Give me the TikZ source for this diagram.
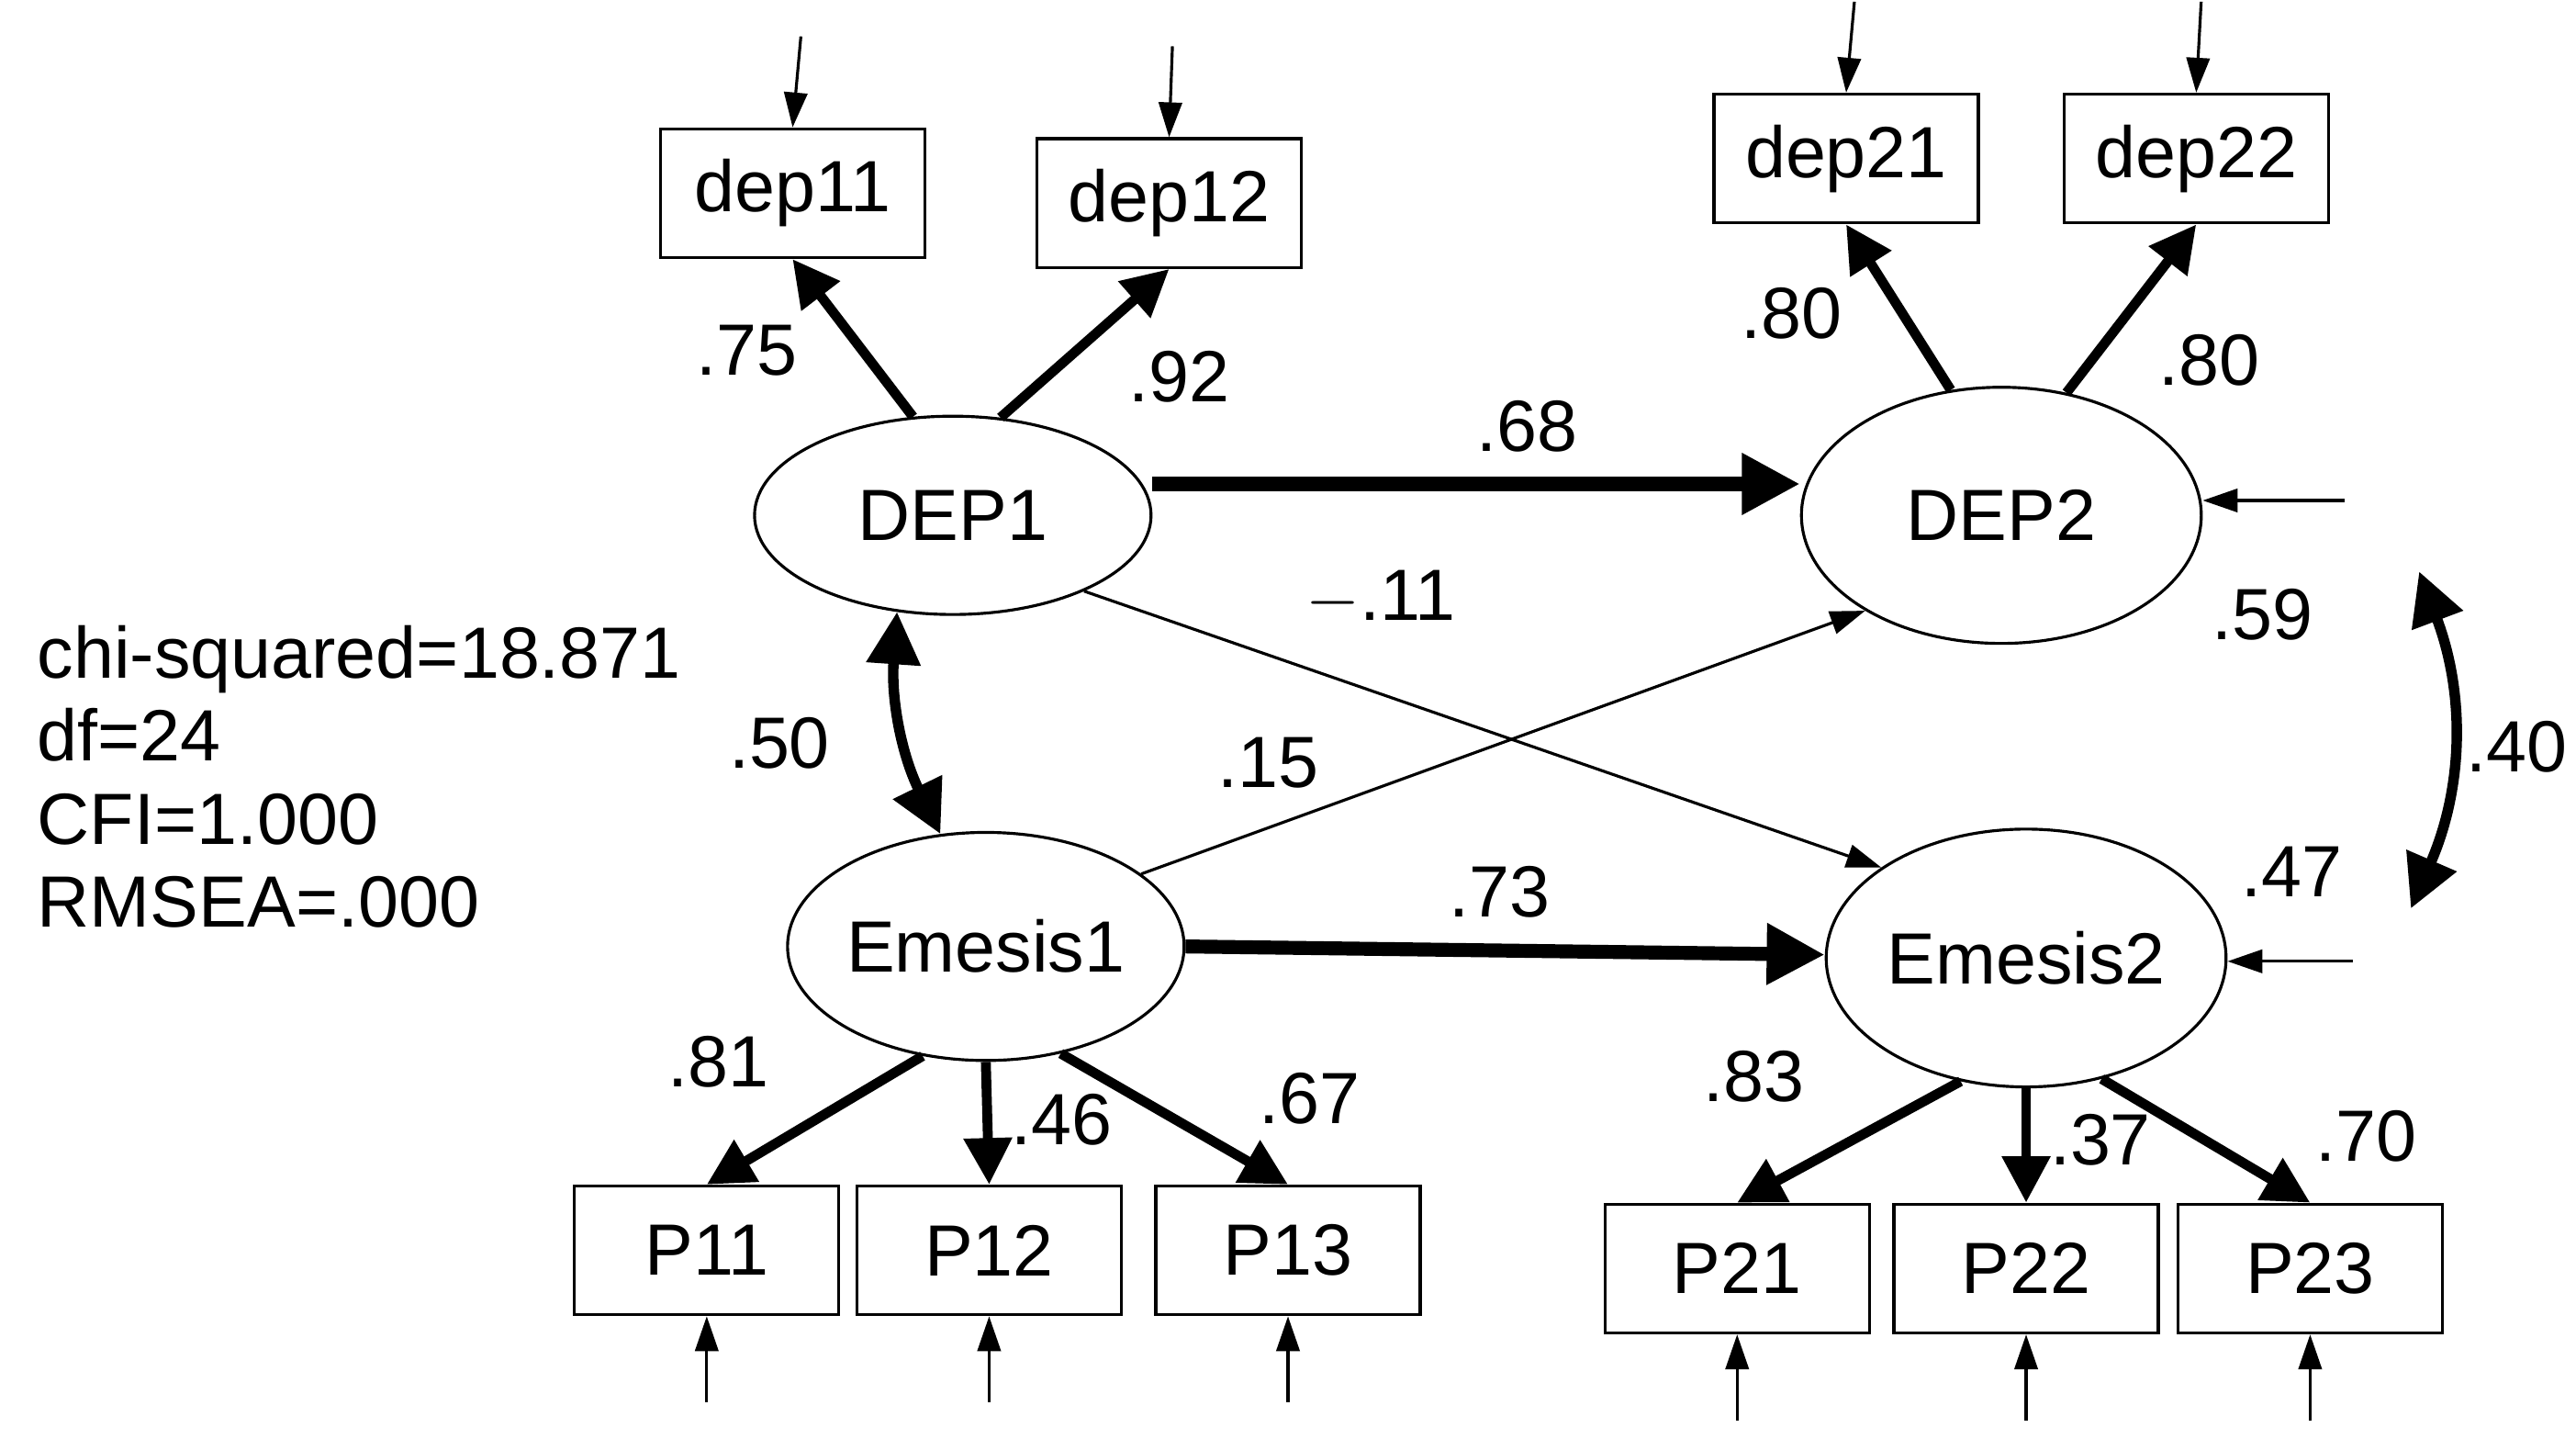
\documentclass[tikz,border=0pt]{standalone}
\usepackage{fontspec}
\setmainfont{Liberation Sans}
\usetikzlibrary{arrows.meta,shapes.geometric}
\begin{document}
\begin{tikzpicture}[x=0.01cm,y=-0.01cm,
  font=\fontsize{12.5}{15}\selectfont,
  box/.style={draw,line width=0.5pt,minimum width=1.6cm,minimum height=0.78cm,inner sep=0pt},
  lat/.style={draw,ellipse,line width=0.5pt,minimum width=2.42cm,minimum height=1.45cm,inner sep=0pt},
  thk/.style={line width=1.7pt,-{Triangle[length=8pt,width=8pt]}},
  thn/.style={line width=0.5pt,-{Triangle[length=6pt,width=4pt]}},
  err/.style={line width=0.5pt,-{Triangle[length=6pt,width=4pt]}},
  lbl/.style={inner sep=0pt}]
\useasboundingbox (0,0) rectangle (1560,871);
\node[box] (dep11) at (480,117) {dep11};
\node[box] (dep12) at (708,123) {dep12};
\node[box] (dep21) at (1118,96) {dep21};
\node[box] (dep22) at (1330,96) {dep22};
\node[lat,minimum width=2.4cm,minimum height=1.2cm] (DEP1) at (577,312) {DEP1};
\node[lat,minimum height=1.55cm] (DEP2) at (1212,312) {DEP2};
\node[lat,minimum width=2.4cm,minimum height=1.38cm] (E1) at (597,573) {Emesis1};
\node[lat,minimum height=1.56cm] (E2) at (1227,580) {Emesis2};
\node[box] (P11) at (428,757) {P11};
\node[box] (P12) at (599,757) {P12};
\node[box] (P13) at (780,757) {P13};
\node[box] (P21) at (1052,768) {P21};
\node[box] (P22) at (1227,768) {P22};
\node[box] (P23) at (1399,768) {P23};
% error terms
\foreach \n/\dx in {dep11/5,dep12/2,dep21/5,dep22/3}{
  \coordinate (e\n) at ([xshift=\dx*0.01cm,yshift=0.55cm]\n.north);
  \draw[err] (e\n) -- (\n.north);}
\foreach \n in {P11,P12,P13,P21,P22,P23}{
  \coordinate (e\n) at ([yshift=-0.52cm]\n.south);
  \draw[err] (e\n) -- (\n.south);}
\coordinate (rD2) at (1420,303);
\coordinate (rE2) at (1425,582);
\draw[err] (rD2) -- (DEP2.east |- rD2);
\draw[err] (rE2) -- (E2.east |- rE2);
% loadings
\draw[thk] (DEP1.112) -- (dep11.south);
\draw[thk] (DEP1.64) -- (dep12.south);
\draw[thk] (DEP2.112) -- (dep21.south);
\draw[thk] (DEP2.62) -- (dep22.south);
\draw[thk] (E1.240) -- (P11.north);
\draw[thk] (E1.south) -- (P12.north);
\draw[thk] (E1.305) -- (P13.north);
\draw[thk] (E2.242) -- (P21.north);
\draw[thk] (E2.south) -- (P22.north);
\draw[thk] (E2.302) -- (P23.north);
% structural
\draw[line width=2.4pt,-{Triangle[length=10pt,width=10pt]}] (DEP1.east |- 0,293) -- (DEP2.west |- 0,293);
\draw[line width=2.4pt,-{Triangle[length=10pt,width=10pt]}] (E1.east |- 0,573) -- (E2.west |- 0,578);
\draw[thn] (DEP1.330) -- (E2.148);
\draw[thn] (E1.25) -- (DEP2.215);
% covariances
\draw[line width=1.8pt,{Triangle[length=9pt,width=9pt]}-{Triangle[length=9pt,width=9pt]}] (DEP1.240) to[bend right=15] (E1.112);
\coordinate (c1) at (1465,346);
\coordinate (c2) at (1460,550);
\draw[line width=1.8pt,{Triangle[length=9pt,width=9pt]}-{Triangle[length=9pt,width=9pt]}] (c1) to[bend left=22] (c2);
% labels
\node[lbl] (l1) at (452,212) {.75};
\node[lbl] (l2) at (714,228) {.92};
\node[lbl] (l3) at (1085,190) {.80};
\node[lbl] (l4) at (1338,218) {.80};
\node[lbl] (l5) at (925,258) {.68};
\node[lbl] (l6) at (836,362) {$-$.11};
\node[lbl] (l7) at (1370,372) {.59};
\node[lbl] (l8) at (1524,452) {.40};
\node[lbl] (l9) at (472,450) {.50};
\node[lbl] (l10) at (768,462) {.15};
\node[lbl] (l11) at (908,540) {.73};
\node[lbl] (l12) at (1388,528) {.47};
\node[lbl] (l13) at (435,643) {.81};
\node[lbl] (l14) at (643,678) {.46};
\node[lbl] (l15) at (793,665) {.67};
\node[lbl] (l16) at (1062,652) {.83};
\node[lbl] (l17) at (1272,690) {.37};
\node[lbl] (l18) at (1433,688) {.70};
\node[anchor=north west,align=left,inner sep=0pt,font=\fontsize{12.5}{14.3}\selectfont] (fit) at (22,378) {chi-squared=18.871\\df=24\\CFI=1.000\\RMSEA=.000};
\end{tikzpicture}
\end{document}
